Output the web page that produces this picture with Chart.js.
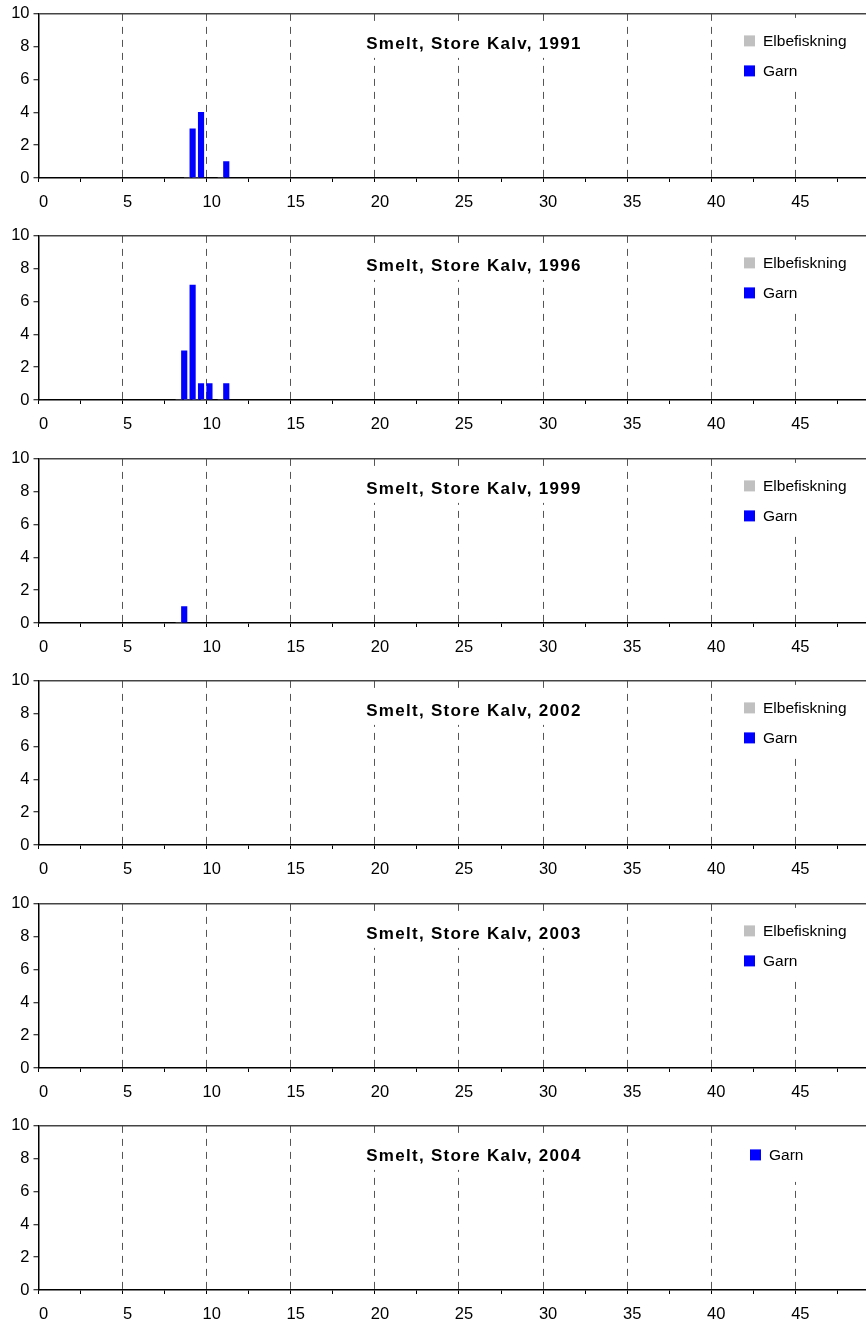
<!DOCTYPE html>
<html>
<head>
<meta charset="utf-8">
<script src="https://cdn.jsdelivr.net/npm/chart.js@4"></script>
<style>
  body { margin: 0; background: #fff; width: 866px; height: 1329px; position: relative; overflow: hidden; }
  .panel { position: absolute; left: 0; width: 866px; height: 222px; }
</style>
</head>
<body>
<div class="panel" style="top:0px"><canvas id="c1991" width="866" height="222"></canvas></div>
<div class="panel" style="top:222px"><canvas id="c1996" width="866" height="222"></canvas></div>
<div class="panel" style="top:445px"><canvas id="c1999" width="866" height="222"></canvas></div>
<div class="panel" style="top:667px"><canvas id="c2002" width="866" height="222"></canvas></div>
<div class="panel" style="top:890px"><canvas id="c2003" width="866" height="222"></canvas></div>
<div class="panel" style="top:1112px"><canvas id="c2004" width="866" height="222"></canvas></div>
<script>
// lengths (cm) and counts
const len1991 = [9, 9.5, 11];
const garn1991 = [3, 4, 1];
const elbe1991 = [0, 0, 0];

const len1996 = [8.5, 9, 9.5, 10, 11];
const garn1996 = [3, 7, 1, 1, 1];
const elbe1996 = [0, 0, 0, 0, 0];

const len1999 = [8.5];
const garn1999 = [1];
const elbe1999 = [0];

const len2002 = [];
const garn2002 = [];
const elbe2002 = [];

const len2003 = [];
const garn2003 = [];
const elbe2003 = [];

const len2004 = [];
const garn2004 = [];

const yTickLabels = [0, 2, 4, 6, 8, 10];
const xTickLabels = [0, 5, 10, 15, 20, 25, 30, 35, 40, 45];

const FONT = "'Liberation Sans', Arial, sans-serif";

const toPoints = (xs, ys) => xs.map((x, i) => ({ x: x, y: ys[i] }));

// title and legend drawn inside the plot area, on white boxes like the original
const panelText = {
  id: "panelText",
  afterDatasetsDraw(chart, args, opts) {
    const ctx = chart.ctx;
    const top = chart.chartArea.top;
    ctx.save();
    ctx.fillStyle = "#fff";
    ctx.fillRect(355, top + 8, 235, 36);
    ctx.fillRect(735, top + 4, 131, opts.boxH);

    ctx.fillStyle = "#000";
    ctx.font = "bold 17px " + FONT;
    ctx.letterSpacing = "1.3px";
    ctx.textAlign = "center";
    ctx.textBaseline = "middle";
    ctx.fillText(opts.title, 474, top + 30);

    ctx.letterSpacing = "0px";
    ctx.font = "15.5px " + FONT;
    ctx.textAlign = "left";
    chart.data.datasets.forEach((ds, i) => {
      const y = top + opts.legendY + i * 30;
      ctx.fillStyle = ds.backgroundColor;
      ctx.fillRect(opts.legendX, y - 5, 11, 11);
      ctx.fillStyle = "#000";
      ctx.fillText(ds.label, opts.legendX + 19, y + 1);
    });
    ctx.restore();
  },
};

function makePanel(id, year, datasets, legend) {
  return new Chart(document.getElementById(id), {
    type: "bar",
    data: { datasets: datasets },
    plugins: [panelText],
    options: {
      responsive: false,
      animation: false,
      layout: { padding: { top: 13, left: 0, right: 0, bottom: 0 } },
      plugins: {
        legend: { display: false },
        tooltip: { enabled: false },
        panelText: {
          title: "Smelt, Store Kalv, " + year,
          legendX: legend.x,
          legendY: legend.y,
          boxH: legend.h,
        },
      },
      scales: {
        x: {
          type: "linear",
          min: 0,
          max: 49.2,
          offset: false,
          ticks: {
            stepSize: 2.5,
            includeBounds: false,
            autoSkip: false,
            maxRotation: 0,
            labelOffset: 5,
            padding: 11,
            color: "#000",
            font: { family: FONT, size: 16.5 },
            callback: (v) => (xTickLabels.includes(v) ? v : ""),
          },
          grid: {
            offset: false,
            color: (c) =>
              c.tick && c.tick.value > 0 && xTickLabels.includes(c.tick.value) ? "#555" : "transparent",
            lineWidth: 1,
            tickColor: "#000",
            tickWidth: 1,
            tickLength: 4,
            tickBorderDash: [],
          },
          border: { color: "#000", width: 1.5, dash: [7, 6] },
          afterFit: (s) => { s.height = 44; },
        },
        y: {
          min: 0,
          max: 10,
          ticks: {
            stepSize: 1,
            padding: 4,
            color: "#000",
            font: { family: FONT, size: 16.5 },
            callback: (v) => (yTickLabels.includes(v) ? v : ""),
          },
          grid: {
            color: (c) => (c.tick && c.tick.value === 10 ? "#444" : "transparent"),
            lineWidth: 1.5,
            tickColor: "#000",
            tickWidth: 1,
            tickLength: 5,
          },
          border: { color: "#000", width: 1.5 },
          afterFit: (s) => { s.width = 38.5; },
        },
      },
    },
  });
}

function bars(label, color, xs, ys) {
  return {
    label: label,
    data: toPoints(xs, ys),
    backgroundColor: color,
    borderWidth: 0,
    barThickness: 5.5,
    grouped: true,
  };
}

const GRAY = "#c0c0c0";
const BLUE = "#0000ff";
const twoItems = { x: 744, y: 26.5, h: 72 };

makePanel("c1991", "1991", [bars("Elbefiskning", GRAY, len1991, elbe1991), bars("Garn", BLUE, len1991, garn1991)], twoItems);
makePanel("c1996", "1996", [bars("Elbefiskning", GRAY, len1996, elbe1996), bars("Garn", BLUE, len1996, garn1996)], twoItems);
makePanel("c1999", "1999", [bars("Elbefiskning", GRAY, len1999, elbe1999), bars("Garn", BLUE, len1999, garn1999)], twoItems);
makePanel("c2002", "2002", [bars("Elbefiskning", GRAY, len2002, elbe2002), bars("Garn", BLUE, len2002, garn2002)], twoItems);
makePanel("c2003", "2003", [bars("Elbefiskning", GRAY, len2003, elbe2003), bars("Garn", BLUE, len2003, garn2003)], twoItems);
makePanel("c2004", "2004", [bars("Garn", BLUE, len2004, garn2004)], { x: 750, y: 28.5, h: 52 });
</script>
</body>
</html>
